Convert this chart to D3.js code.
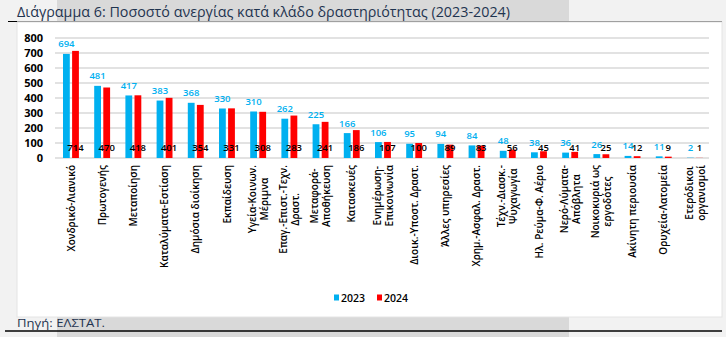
<!DOCTYPE html>
<html><head><meta charset="utf-8">
<script src="https://cdn.jsdelivr.net/npm/d3@7"></script>
<style>
html,body{margin:0;padding:0;background:#f2f2f2;}
svg{display:block;}
</style></head>
<body>
<svg id="c" width="726" height="337"></svg>
<script>
const categories = [
  ["Χονδρικό-Λιανικό"],
  ["Πρωτογενής"],
  ["Μεταποίηση"],
  ["Καταλύματα-Εστίαση"],
  ["Δημόσια διοίκηση"],
  ["Εκπαίδευση"],
  ["Υγεία-Κοινων.","Μέριμνα"],
  ["Επαγ.-Επιστ.-Τεχν.","Δραστ."],
  ["Μεταφορά-","Αποθήκευση"],
  ["Κατασκευές"],
  ["Ενημέρωση-","Επικοινωνία"],
  ["Διοικ.-Υποστ. Δραστ."],
  ["Άλλες υπηρεσίες"],
  ["Χρημ.-Ασφαλ. Δραστ."],
  ["Τέχν.-Διασκ.-","Ψυχαγωγία"],
  ["Ηλ. Ρεύμα-Φ. Αέριο"],
  ["Νερό-Λύματα-","Απόβλητα"],
  ["Νοικοκυριά ως","εργοδότες"],
  ["Ακίνητη περιουσία"],
  ["Ορυχεία-Λατομεία"],
  ["Ετερόδικοι","οργανισμοί"]
];
const values2023 = [694,481,417,383,368,330,310,262,225,166,106,95,94,84,48,38,36,26,14,11,2];
const values2024 = [714,470,418,401,354,331,308,283,241,186,107,100,89,83,56,45,41,25,12,9,1];
const yTicks = [0,100,200,300,400,500,600,700,800];
const seriesNames = ["2023","2024"];
const colors = ["#00b0f0","#ff0000"];

const svg = d3.select("#c");
const FONT = "'Open Sans', sans-serif";
const NAVY = "#1f3450";

// background bands
svg.append("rect").attr("x",57).attr("y",0).attr("width",512).attr("height",22).attr("fill","#d9d9d9");
svg.append("rect").attr("x",57).attr("y",317).attr("width",512).attr("height",20).attr("fill","#d9d9d9");
// white panel
svg.append("rect").attr("x",17).attr("y",22).attr("width",705).attr("height",295).attr("fill","#fff")
  .attr("stroke","#e4e4e4").attr("stroke-width",1);
// title line
svg.append("line").attr("x1",8).attr("x2",722).attr("y1",21.5).attr("y2",21.5).attr("stroke","#a0a0a0").attr("stroke-width",1);
svg.append("line").attr("x1",8).attr("x2",17).attr("y1",21.5).attr("y2",21.5).attr("stroke","#000").attr("stroke-width",1);
// bottom line
svg.append("line").attr("x1",5).attr("x2",722).attr("y1",331).attr("y2",331).attr("stroke","#000").attr("stroke-width",1.5);

// title
svg.append("text").attr("x",17).attr("y",17).attr("font-family",FONT).attr("font-size",14)
  .attr("fill",NAVY).text("Διάγραμμα 6: Ποσοστό ανεργίας κατά κλάδο δραστηριότητας (2023-2024)")
  .attr("textLength",493).attr("lengthAdjust","spacingAndGlyphs");
// source
svg.append("text").attr("x",17).attr("y",327).attr("font-family",FONT).attr("font-size",11)
  .attr("fill",NAVY).text("Πηγή: ΕΛΣΤΑΤ.").attr("textLength",88).attr("lengthAdjust","spacingAndGlyphs");

const x = d3.scaleBand().domain(d3.range(categories.length)).range([55.4,710.6]);
const y = d3.scaleLinear().domain([0,800]).range([158,38]);

// gridlines
svg.append("g").selectAll("line").data(yTicks).join("line")
  .attr("x1",55).attr("x2",709).attr("y1",d=>y(d)).attr("y2",d=>y(d))
  .attr("stroke","#d9d9d9").attr("stroke-width",1.5);

// y axis
const yAxis = d3.axisLeft(y).tickValues(yTicks).tickSize(0).tickPadding(0);
const ga = svg.append("g").attr("transform","translate(43,0)").call(yAxis);
ga.select(".domain").remove();
ga.selectAll("text").attr("font-family",FONT).attr("font-size",11).attr("font-weight","bold").attr("fill","#000");

const bw = 6.8;
const cx = i => x(i) + x.bandwidth()/2;

// bars
svg.append("g").selectAll("rect").data(values2023).join("rect")
  .attr("x",(d,i)=>cx(i)-8).attr("width",bw).attr("y",d=>y(d)).attr("height",d=>y(0)-y(d)).attr("fill",colors[0]);
svg.append("g").selectAll("rect").data(values2024).join("rect")
  .attr("x",(d,i)=>cx(i)+1.1).attr("width",bw).attr("y",d=>y(d)).attr("height",d=>y(0)-y(d)).attr("fill",colors[1]);

// labels
svg.append("g").selectAll("text").data(values2023).join("text")
  .attr("x",(d,i)=>cx(i)-4.6).attr("y",d=>y(d)-6.5).attr("text-anchor","middle")
  .attr("font-family",FONT).attr("font-size",9.5).attr("font-weight",600).attr("fill",colors[0]).text(d=>d);
svg.append("g").selectAll("text").data(values2024).join("text")
  .attr("x",(d,i)=>cx(i)+4.5).attr("y",y(73)+3.5).attr("text-anchor","middle")
  .attr("font-family",FONT).attr("font-size",9.5).attr("font-weight",600).attr("fill","#000").text(d=>d);

// category labels
const gl = svg.append("g");
categories.forEach((lines,i)=>{
  const g = gl.append("g").attr("transform",`translate(${cx(i)},165) rotate(-90)`);
  const n = lines.length;
  const ts = lines.map((t,k)=>g.append("text").attr("font-family",FONT).attr("font-size",10)
    .attr("font-weight",600).attr("fill","#000").attr("text-anchor","middle")
    .attr("y", (k-(n-1)/2)*12 + 3.5).text(t));
  const maxLen = d3.max(ts, t=>t.node().getComputedTextLength());
  ts.forEach(t=>t.attr("x",-maxLen/2));
});

// legend
const lg = svg.append("g").attr("transform","translate(334,298)");
seriesNames.forEach((s,k)=>{
  const g = lg.append("g").attr("transform",`translate(${k*43},0)`);
  g.append("rect").attr("x",0).attr("y",-3.5).attr("width",5).attr("height",6).attr("fill",colors[k]);
  g.append("text").attr("x",7).attr("y",3.5).attr("font-family",FONT).attr("font-size",10.5)
    .attr("font-weight",600).attr("fill","#000").text(s);
});
</script>
</body></html>
